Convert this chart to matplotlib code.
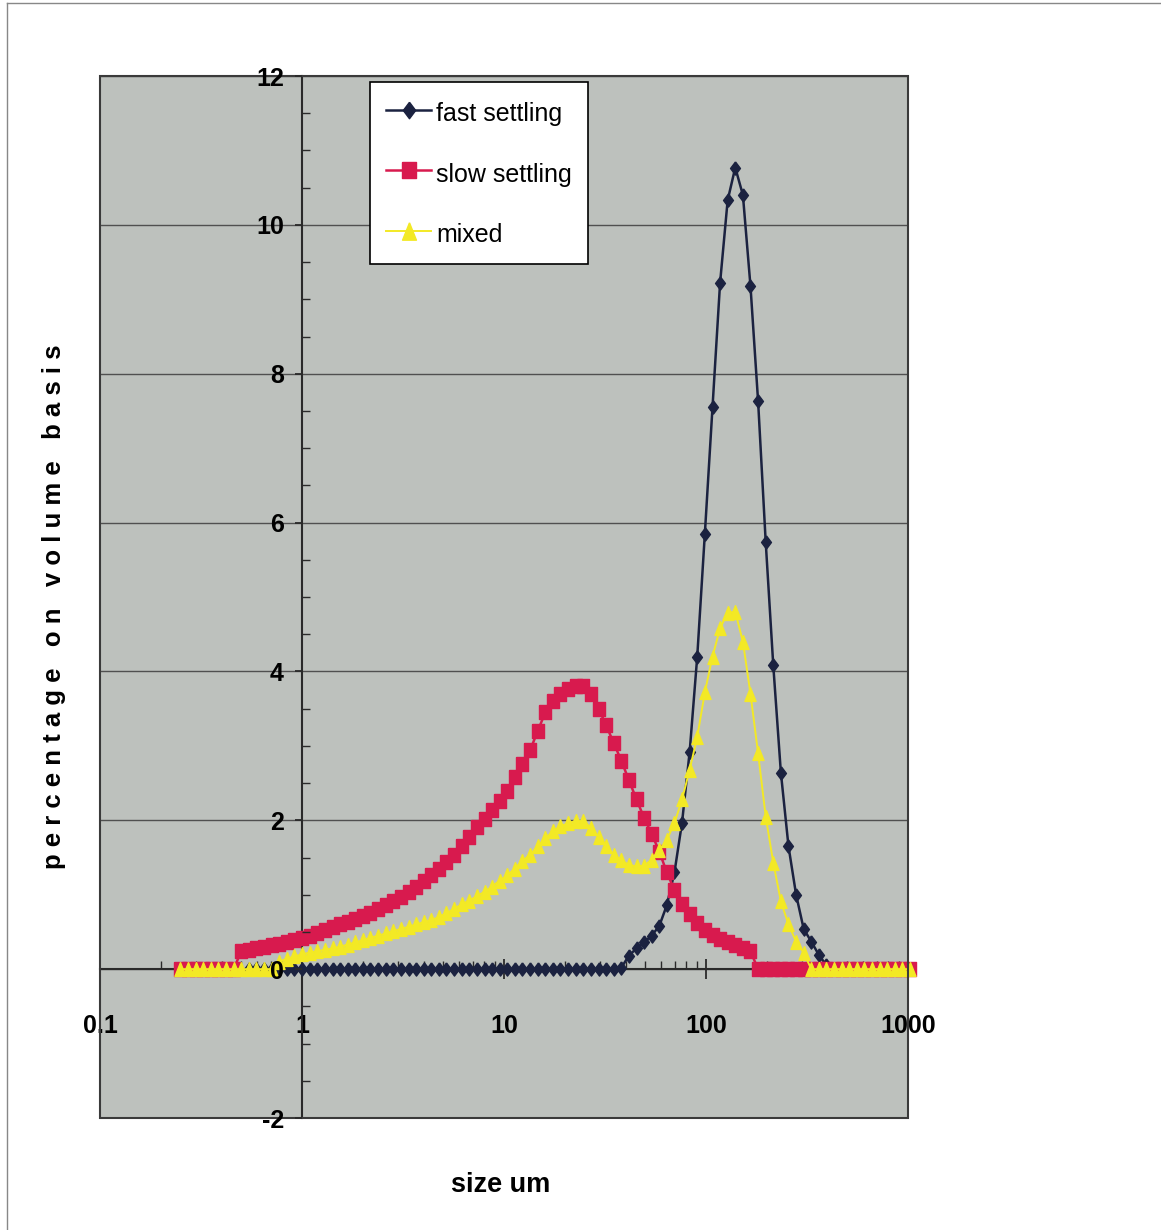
import numpy as np
import matplotlib
matplotlib.use('Agg')
import matplotlib.pyplot as plt
from matplotlib.ticker import MultipleLocator, LogLocator, NullFormatter
from matplotlib.patches import Rectangle
from matplotlib.lines import Line2D

nan = np.nan

# particle size classes (um)
size_um = [
    0.250, 0.273, 0.298, 0.324, 0.354, 0.386, 0.421, 0.459, 0.500, 0.546,
    0.595, 0.649, 0.708, 0.772, 0.842, 0.918, 1.00, 1.09, 1.19, 1.30,
    1.42, 1.54, 1.68, 1.84, 2.00, 2.18, 2.38, 2.60, 2.83, 3.09,
    3.37, 3.67, 4.00, 4.37, 4.76, 5.19, 5.66, 6.17, 6.73, 7.34,
    8.01, 8.73, 9.52, 10.4, 11.3, 12.3, 13.5, 14.7, 16.0, 17.5,
    19.0, 20.8, 22.6, 24.7, 26.9, 29.4, 32.0, 34.9, 38.1, 41.5,
    45.3, 49.4, 53.8, 58.7, 64.0, 69.8, 76.1, 83.0, 90.5, 98.7,
    107.7, 117.4, 128.0, 139.6, 152.3, 166.0, 181.1, 197.5, 215.3, 234.8,
    256.1, 279.3, 304.5, 332.1, 362.2, 394.9, 430.7, 469.6, 512.2, 558.5,
    609.0, 664.2, 724.3, 789.8, 861.3, 939.1, 1024,
]

fast_settling = [
    nan, nan, nan, nan, nan, nan, nan, nan, nan, 0,
    0, 0, 0, 0, 0, 0, 0, 0, 0, 0,
    0, 0, 0, 0, 0, 0, 0, 0, 0, 0,
    0, 0, 0, 0, 0, 0, 0, 0, 0, 0,
    0, 0, 0, 0, 0, 0, 0, 0, 0, 0,
    0, 0, 0, 0, 0, 0, 0, 0, 0.02, 0.18,
    0.28, 0.36, 0.45, 0.58, 0.86, 1.30, 1.97, 2.92, 4.20, 5.85,
    7.55, 9.22, 10.33, 10.77, 10.40, 9.18, 7.63, 5.74, 4.08, 2.64,
    1.65, 1.00, 0.54, 0.37, 0.19, 0.05, nan, nan, nan, nan,
    nan, nan, nan, nan, nan, nan, nan,
]

slow_settling = [
    0, 0, 0, 0, 0, 0, 0, 0, 0.24, 0.26,
    0.28, 0.30, 0.32, 0.34, 0.36, 0.39, 0.42, 0.45, 0.48, 0.52,
    0.56, 0.60, 0.64, 0.68, 0.72, 0.76, 0.81, 0.86, 0.91, 0.97,
    1.04, 1.11, 1.19, 1.27, 1.35, 1.44, 1.54, 1.66, 1.78, 1.91,
    2.02, 2.14, 2.26, 2.40, 2.58, 2.75, 2.95, 3.20, 3.45, 3.60,
    3.70, 3.76, 3.80, 3.80, 3.70, 3.50, 3.28, 3.04, 2.80, 2.54,
    2.28, 2.03, 1.82, 1.58, 1.30, 1.06, 0.88, 0.74, 0.62, 0.53,
    0.46, 0.41, 0.36, 0.32, 0.28, 0.24, 0, 0, 0, 0,
    0, 0, 0, 0, 0, 0, 0, 0, 0, 0,
    0, 0, 0, 0, 0, 0, 0,
]

mixed = [
    0, 0, 0, 0, 0, 0, 0, 0, 0, 0,
    0, 0, 0, 0.10, 0.14, 0.17, 0.20, 0.22, 0.24, 0.26,
    0.28, 0.30, 0.33, 0.36, 0.39, 0.42, 0.45, 0.48, 0.51, 0.54,
    0.57, 0.60, 0.63, 0.66, 0.70, 0.75, 0.81, 0.87, 0.92, 0.98,
    1.04, 1.11, 1.19, 1.26, 1.35, 1.45, 1.54, 1.65, 1.76, 1.85,
    1.92, 1.96, 1.99, 1.99, 1.90, 1.78, 1.66, 1.54, 1.46, 1.40,
    1.38, 1.39, 1.47, 1.60, 1.74, 1.96, 2.28, 2.68, 3.12, 3.72,
    4.20, 4.58, 4.79, 4.80, 4.40, 3.70, 2.90, 2.05, 1.43, 0.91,
    0.60, 0.37, 0.22, 0, 0, 0, 0, 0, 0, 0,
    0, 0, 0, 0, 0, 0, 0,
]

x_ticks = [0.1, 1, 10, 100, 1000]
x_tick_labels = ['0.1', '1', '10', '100', '1000']
y_ticks = [-2, 0, 2, 4, 6, 8, 10, 12]
y_tick_labels = ['-2', '0', '2', '4', '6', '8', '10', '12']

plt.rcParams['font.family'] = ['Liberation Sans', 'DejaVu Sans']

W, H = 1161, 1230
fig = plt.figure(figsize=(W / 100, H / 100), dpi=100)
ax = fig.add_axes([100 / W, 112 / H, 808 / W, 1042 / H])
ax.set_facecolor('#bdc1bd')

diamond = [(0, 1), (0.75, 0), (0, -1), (-0.75, 0), (0, 1)]
square = [(-0.85, 1), (0.85, 1), (0.85, -1), (-0.85, -1), (-0.85, 1)]
triangle = [(0, 1), (0.8, -1), (-0.8, -1), (0, 1)]

navy = '#1b2240'
red = '#d81a4e'
yellow = '#f3e925'

ax.plot(size_um, fast_settling, color=navy, lw=1.8, marker=diamond, ms=9.5,
        mfc=navy, mec=navy, zorder=3, clip_on=False, label='fast settling')
ax.plot(size_um, slow_settling, color=red, lw=1.8, marker=square, ms=9.5,
        mfc=red, mec=red, zorder=4, clip_on=False, label='slow settling')
ax.plot(size_um, mixed, color=yellow, lw=1.4, marker=triangle, ms=10,
        mfc=yellow, mec=yellow, zorder=5, clip_on=False, label='mixed')

ax.set_xscale('log')
ax.set_xlim(0.1, 1000)
ax.set_ylim(-2, 12)

# gridlines under the data, axis (ticks + labels) above it
ax.hlines(y_ticks, 0.1, 1000, colors='#505050', lw=1.0, zorder=1)

# axes cross at x=1 and y=0 like the excel chart
ax.spines['left'].set_position(('data', 1))
ax.spines['bottom'].set_position(('data', 0))
for s in ['left', 'bottom']:
    ax.spines[s].set_color('#2a2a2a')
    ax.spines[s].set_linewidth(1.5)
    ax.spines[s].set_zorder(2)
ax.spines['top'].set_visible(False)
ax.spines['right'].set_visible(False)
ax.add_patch(Rectangle((0, 0), 1, 1, transform=ax.transAxes, fill=False,
                       ec='#3a3a3a', lw=1.5, clip_on=False, zorder=6))

ax.set_xticks(x_ticks, labels=x_tick_labels, fontsize=18, fontweight='bold')
ax.xaxis.set_minor_locator(LogLocator(base=10, subs=np.arange(2, 10)))
ax.xaxis.set_minor_formatter(NullFormatter())
ax.set_yticks(y_ticks, labels=y_tick_labels, fontsize=18, fontweight='bold')
ax.yaxis.set_minor_locator(MultipleLocator(0.5))
ax.yaxis.set_zorder(7)

ax.tick_params(axis='x', which='major', direction='inout', length=14, width=1.3,
               pad=25, color='#2a2a2a')
ax.tick_params(axis='x', which='minor', direction='in', length=6, width=1.0,
               color='#2a2a2a')
ax.tick_params(axis='y', which='major', direction='out', length=5, width=1.3,
               pad=8, color='#2a2a2a')
ax.tick_params(axis='y', which='minor', direction='in', length=6, width=1.0,
               color='#2a2a2a')

leg = ax.legend(loc='upper left', bbox_to_anchor=(0.334, 0.994), borderaxespad=0,
                frameon=True, fancybox=False, edgecolor='black', facecolor='white',
                framealpha=1, fontsize=18, handlelength=1.8, handleheight=1.4,
                handletextpad=0.2, labelspacing=1.26, borderpad=0.65,
                numpoints=1, markerscale=1.25)
leg.get_frame().set_linewidth(1.2)
leg.set_zorder(10)

ax.set_xlabel('size um', fontsize=19.5, fontweight='bold', va='center')
ax.xaxis.set_label_coords(0.496, -0.0643)

ylab = '   '.join(' '.join(w) for w in 'percentage on volume basis'.split())
ax.set_ylabel(ylab, fontsize=18.5, fontweight='bold', va='center', ha='center')
ax.yaxis.set_label_coords(-0.0569, 0.4904)

# scanned page frame
fig.add_artist(Line2D([7 / W, 7 / W], [0, 1 - 3 / H], transform=fig.transFigure,
                      color='#888888', lw=1))
fig.add_artist(Line2D([7 / W, 1], [1 - 3 / H, 1 - 3 / H], transform=fig.transFigure,
                      color='#888888', lw=1))

fig.savefig('out.png', dpi=100)
